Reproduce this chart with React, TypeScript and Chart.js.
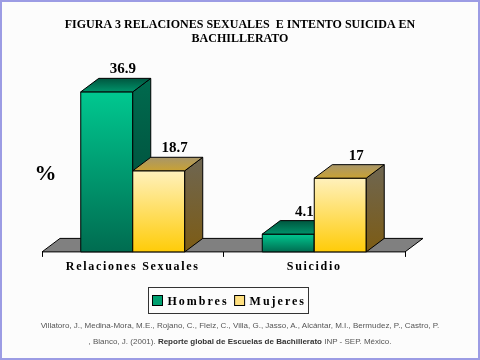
import React, { useEffect, useRef } from 'react';
import { Chart, registerables, CategoryScale } from 'chart.js';

Chart.register(...registerables);

class SpacedCategoryScale extends CategoryScale {
  static id = 'spacedCategory';
  static defaults = (CategoryScale as any).defaults;
  drawLabels(chartArea: any) {
    const ctx = (this as any).ctx as CanvasRenderingContext2D;
    ctx.save();
    (ctx as any).letterSpacing = '1.7px';
    super.drawLabels(chartArea);
    ctx.restore();
  }
}
Chart.register(SpacedCategoryScale as any);

// ---- data ----
const titleLines = ['FIGURA 3 RELACIONES SEXUALES  E INTENTO SUICIDA EN', 'BACHILLERATO'];
const categories = ['Relaciones Sexuales', 'Suicidio'];
const seriesNames = ['Hombres', 'Mujeres'];
const hombres = [36.9, 4.1];
const mujeres = [18.7, 17];
const yAxisLabel = '%';
const yMax = 40;

const SERIF = "'Liberation Serif', 'Times New Roman', serif";
const DX = 18;
const DY = -13.5;

const faceStyles = [
  {
    front: ['#00C890', '#006C50'],
    side: ['#006A4E', '#004636'],
    top: ['#00563F', '#00936A'],
    swatch: '#00A070',
  },
  {
    front: ['#FFF1BC', '#FFCC08'],
    side: ['#6E6652', '#7D5C14'],
    top: ['#A8966A', '#C9A233'],
    swatch: '#FFE080',
  },
];

function poly(ctx: CanvasRenderingContext2D, pts: number[][], fill: any) {
  ctx.beginPath();
  ctx.moveTo(pts[0][0], pts[0][1]);
  for (let i = 1; i < pts.length; i++) ctx.lineTo(pts[i][0], pts[i][1]);
  ctx.closePath();
  ctx.fillStyle = fill;
  ctx.fill();
  ctx.strokeStyle = '#000';
  ctx.lineWidth = 1;
  ctx.stroke();
}

const threeD = {
  id: 'threeD',
  beforeDatasetsDraw(chart: any) {
    const { ctx, chartArea: a } = chart;
    ctx.save();
    poly(ctx, [
      [a.left, a.bottom],
      [a.left + DX, a.bottom + DY],
      [a.right + DX, a.bottom + DY],
      [a.right, a.bottom],
    ], '#808080');
    ctx.restore();
  },
  afterDatasetsDraw(chart: any) {
    const ctx: CanvasRenderingContext2D = chart.ctx;
    const nSets = chart.data.datasets.length;
    const n = chart.data.labels.length;
    ctx.save();
    const labelsToDraw: any[] = [];
    for (let j = 0; j < n; j++) {
      for (let i = 0; i < nSets; i++) {
        const el = chart.getDatasetMeta(i).data[j];
        const { x, y, base, width } = el.getProps(['x', 'y', 'base', 'width'], true);
        const l = x - width / 2;
        const r = x + width / 2;
        const st = faceStyles[i];
        let g = ctx.createLinearGradient(0, y, 0, base);
        g.addColorStop(0, st.front[0]);
        g.addColorStop(1, st.front[1]);
        poly(ctx, [[l, y], [r, y], [r, base], [l, base]], g);
        g = ctx.createLinearGradient(0, y + DY, 0, base);
        g.addColorStop(0, st.side[0]);
        g.addColorStop(1, st.side[1]);
        poly(ctx, [[r, y], [r + DX, y + DY], [r + DX, base + DY], [r, base]], g);
        g = ctx.createLinearGradient(0, y + DY, 0, y);
        g.addColorStop(0, st.top[0]);
        g.addColorStop(1, st.top[1]);
        poly(ctx, [[l, y], [l + DX, y + DY], [r + DX, y + DY], [r, y]], g);
        labelsToDraw.push({ x: x + 16, y: y + DY - 5, v: chart.data.datasets[i].data[j] });
      }
    }
    ctx.fillStyle = '#000';
    ctx.font = `bold 15px ${SERIF}`;
    ctx.textAlign = 'center';
    ctx.textBaseline = 'alphabetic';
    for (const lb of labelsToDraw) ctx.fillText(String(lb.v), lb.x, lb.y);
    ctx.restore();
  },
  afterDraw(chart: any) {
    const ctx: CanvasRenderingContext2D = chart.ctx;
    const a = chart.chartArea;
    ctx.save();
    // title
    ctx.fillStyle = '#000';
    ctx.font = `bold 12px ${SERIF}`;
    ctx.textAlign = 'center';
    ctx.textBaseline = 'middle';
    titleLines.forEach((t, i) => ctx.fillText(t, chart.width / 2, 25 + i * 14.4));

    // "%" axis label
    ctx.font = `bold 22px ${SERIF}`;
    ctx.fillText(yAxisLabel, a.left + 3.5, (a.top + a.bottom) / 2 + 9);

    // legend
    ctx.font = `bold 12px ${SERIF}`;
    (ctx as any).letterSpacing = '2px';
    ctx.textAlign = 'left';
    const sw = 10, pad = 4, gap = 5, itemGap = 6;
    const names = chart.data.datasets.map((d: any) => d.label);
    const widths = names.map((t: string) => ctx.measureText(t).width);
    let total = pad;
    widths.forEach((w: number, i: number) => {
      total += sw + gap + w + (i < widths.length - 1 ? itemGap : 0);
    });
    total += pad - 2;
    const cx = (a.left + a.right) / 2 + 4;
    const bx = Math.round(cx - total / 2) + 0.5;
    const by = Math.round(a.bottom + 35) + 0.5;
    const bh = 26;
    ctx.strokeStyle = '#333';
    ctx.lineWidth = 1;
    ctx.strokeRect(bx, by, Math.round(total), bh);
    let xx = bx + pad;
    const cy = by + bh / 2;
    names.forEach((t: string, i: number) => {
      ctx.fillStyle = faceStyles[i].swatch;
      ctx.fillRect(xx, cy - sw / 2, sw, sw);
      ctx.strokeStyle = '#000';
      ctx.strokeRect(xx, cy - sw / 2, sw, sw);
      xx += sw + gap;
      ctx.fillStyle = '#000';
      ctx.textBaseline = 'middle';
      ctx.fillText(t, xx, cy + 1);
      xx += widths[i] + itemGap;
    });
    ctx.restore();
  },
};

export default function App() {
  const ref = useRef<HTMLCanvasElement>(null);
  useEffect(() => {
    if (!ref.current) return;
    const chart = new Chart(ref.current, {
      type: 'bar',
      data: {
        labels: categories,
        datasets: [
          { label: seriesNames[0], data: hombres, backgroundColor: faceStyles[0].front[0], borderWidth: 0 },
          { label: seriesNames[1], data: mujeres, backgroundColor: faceStyles[1].front[1], borderWidth: 0 },
        ],
      },
      options: {
        responsive: false,
        animation: false,
        devicePixelRatio: 1,
        layout: { padding: { left: 42, right: 75, top: 78.4, bottom: 82.7 } },
        datasets: { bar: { categoryPercentage: 0.573, barPercentage: 1 } } as any,
        plugins: {
          legend: { display: false },
          tooltip: { enabled: false },
          title: { display: false },
        },
        scales: {
          x: {
            type: 'spacedCategory' as any,
            offset: true,
            grid: { display: true, offset: true, drawOnChartArea: false, drawTicks: true, tickLength: 5, color: '#000' },
            border: { display: true, color: '#000' },
            ticks: { color: '#000', padding: 3, font: { family: SERIF, size: 12, weight: 'bold' } },
          },
          y: {
            display: false,
            min: 0,
            max: yMax,
          },
        },
      },
      plugins: [threeD],
    } as any);
    return () => chart.destroy();
  }, []);

  return (
    <div
      style={{
        position: 'fixed',
        left: 0,
        top: 0,
        width: 480,
        height: 360,
        background: '#FCFCFC',
        boxShadow: 'inset 0 0 0 2px #9C9CE4',
        overflow: 'hidden',
      }}
    >
      <canvas ref={ref} width={480} height={360} style={{ position: 'absolute', left: 0, top: 0 }} />
      <div
        style={{
          position: 'absolute',
          left: 0,
          top: 318,
          width: 480,
          textAlign: 'center',
          fontFamily: "'Liberation Sans', Arial, sans-serif",
          fontSize: 8,
          lineHeight: '16px',
          color: '#555',
        }}
      >
        Villatoro, J., Medina-Mora, M.E., Rojano, C., Fleiz, C., Villa, G., Jasso, A., Alcántar, M.I., Bermudez, P., Castro, P.
        <br />
        , Blanco, J. (2001). <b style={{ color: '#333' }}>Reporte global de Escuelas de Bachillerato</b> INP - SEP. México.
      </div>
    </div>
  );
}
